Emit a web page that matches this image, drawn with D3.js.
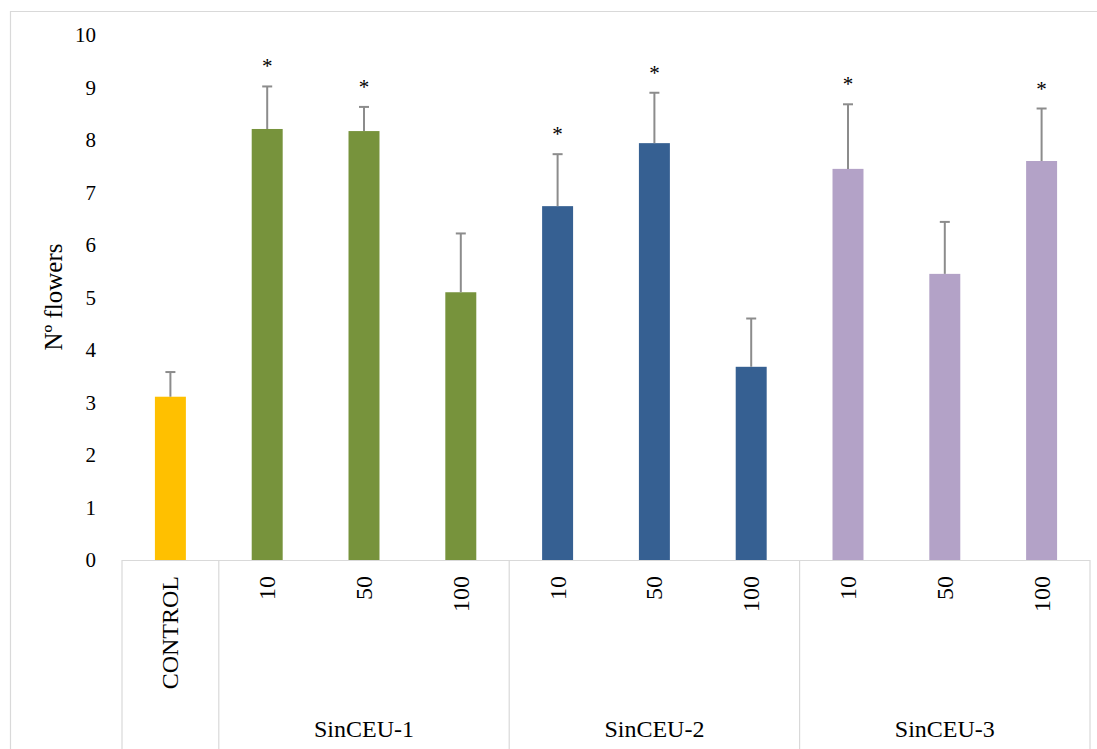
<!DOCTYPE html>
<html>
<head>
<meta charset="utf-8">
<script src="https://cdn.jsdelivr.net/npm/d3@7"></script>
<style>
  html, body { margin: 0; padding: 0; background: #fff; }
  svg { display: block; }
  text { font-family: "Liberation Serif", "DejaVu Serif", serif; fill: #000; }
</style>
</head>
<body>
<svg id="chart" width="1097" height="749"></svg>
<script>
// ---- data ----
const categories = ["CONTROL", "10", "50", "100", "10", "50", "100", "10", "50", "100"];
const groupOfCategory = ["", "SinCEU-1", "SinCEU-1", "SinCEU-1", "SinCEU-2", "SinCEU-2", "SinCEU-2", "SinCEU-3", "SinCEU-3", "SinCEU-3"];
const groupNames = ["SinCEU-1", "SinCEU-2", "SinCEU-3"];
const values = [3.11, 8.21, 8.17, 5.10, 6.74, 7.94, 3.68, 7.45, 5.45, 7.60];
const errors = [0.47, 0.81, 0.46, 1.12, 0.99, 0.96, 0.92, 1.23, 0.99, 1.00];
const significant = [false, true, true, false, true, true, false, true, false, true];
const yTicks = [0, 1, 2, 3, 4, 5, 6, 7, 8, 9, 10];
const groupColors = { "": "#FFC000", "SinCEU-1": "#77933C", "SinCEU-2": "#366092", "SinCEU-3": "#B3A2C7" };
const yTitle = "Nº flowers";

// ---- layout ----
const svg = d3.select("#chart");
const plotLeft = 122, plotRight = 1090, plotTop = 35, plotBottom = 560;
const keys = categories.map((c, i) => i);

const x = d3.scaleBand().domain(keys).range([plotLeft, plotRight]).padding(0);
const y = d3.scaleLinear().domain([0, 10]).range([plotBottom, plotTop]);
const barW = x.bandwidth() * 0.32;
const gridColor = "#d9d9d9";

// outer chart frame
svg.append("path")
  .attr("d", `M10.5,749 L10.5,11.5 L1097,11.5`)
  .attr("fill", "none").attr("stroke", gridColor).attr("stroke-width", 1.2);

// y tick labels
svg.append("g").selectAll("text").data(yTicks).join("text")
  .attr("x", 96).attr("y", d => y(d))
  .attr("text-anchor", "end").attr("dominant-baseline", "central")
  .attr("font-size", 21).text(d => d);

// y title
svg.append("text")
  .attr("transform", `translate(62,297) rotate(-90)`)
  .attr("text-anchor", "middle")
  .attr("font-size", 25).text(yTitle);

// bars
svg.append("g").selectAll("rect").data(keys).join("rect")
  .attr("x", i => x(i) + x.bandwidth() / 2 - barW / 2)
  .attr("y", i => y(values[i]))
  .attr("width", barW)
  .attr("height", i => y(0) - y(values[i]))
  .attr("fill", i => groupColors[groupOfCategory[i]]);

// error bars
const eg = svg.append("g").attr("stroke", "#8c8c8c").attr("stroke-width", 2);
keys.forEach(i => {
  const cx = x(i) + x.bandwidth() / 2;
  const top = y(values[i] + errors[i]);
  eg.append("line").attr("x1", cx).attr("x2", cx).attr("y1", y(values[i])).attr("y2", top);
  eg.append("line").attr("x1", cx - 5).attr("x2", cx + 5).attr("y1", top).attr("y2", top);
});

// significance stars
svg.append("g").selectAll("text").data(keys.filter(i => significant[i])).join("text")
  .attr("x", i => x(i) + x.bandwidth() / 2)
  .attr("y", i => y(values[i] + errors[i]) - 24 + 11)
  .attr("text-anchor", "middle")
  .attr("font-size", 21).text("*");

// category axis
const ax = svg.append("g").attr("stroke", gridColor).attr("stroke-width", 1.2);
ax.append("line").attr("x1", plotLeft).attr("x2", plotRight).attr("y1", plotBottom + 0.5).attr("y2", plotBottom + 0.5);
// dividers: left edge, after CONTROL, between groups, right edge
const dividerIdx = [0, 1, 4, 7];
dividerIdx.forEach(i => {
  ax.append("line").attr("x1", x(i)).attr("x2", x(i)).attr("y1", plotBottom).attr("y2", 749);
});
ax.append("line").attr("x1", plotRight).attr("x2", plotRight).attr("y1", plotBottom).attr("y2", 749);

// category labels (rotated)
svg.append("g").selectAll("text").data(keys).join("text")
  .attr("transform", i => `translate(${x(i) + x.bandwidth() / 2 + 8},576) rotate(-90)`)
  .attr("text-anchor", "end")
  .attr("font-size", 24).text(i => categories[i]);

// group labels
groupNames.forEach(g => {
  const idx = keys.filter(i => groupOfCategory[i] === g);
  const x0 = x(idx[0]), x1 = x(idx[idx.length - 1]) + x.bandwidth();
  svg.append("text")
    .attr("x", (x0 + x1) / 2).attr("y", 737)
    .attr("text-anchor", "middle")
    .attr("font-size", 24).text(g);
});
</script>
</body>
</html>
